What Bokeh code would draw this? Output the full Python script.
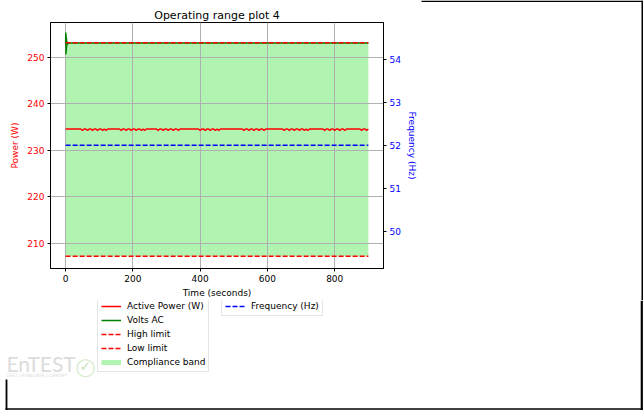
from bokeh.plotting import figure
from bokeh.layouts import column, row
from bokeh.models import (Range1d, LinearAxis, FixedTicker, Legend, LegendItem, Label)
from bokeh.embed import file_html
from bokeh.resources import INLINE

# ---------------- data ----------------
time_s = [0, 5, 10, 15, 20, 25, 30, 35, 40, 45, 50, 55, 60, 65, 70, 75, 80, 85, 90, 95,
          100, 105, 110, 115, 120, 125, 130, 135, 140, 145, 150, 155, 160, 165, 170, 175, 180, 185, 190, 195,
          200, 205, 210, 215, 220, 225, 230, 235, 240, 245, 250, 255, 260, 265, 270, 275, 280, 285, 290, 295,
          300, 305, 310, 315, 320, 325, 330, 335, 340, 345, 350, 355, 360, 365, 370, 375, 380, 385, 390, 395,
          400, 405, 410, 415, 420, 425, 430, 435, 440, 445, 450, 455, 460, 465, 470, 475, 480, 485, 490, 495,
          500, 505, 510, 515, 520, 525, 530, 535, 540, 545, 550, 555, 560, 565, 570, 575, 580, 585, 590, 595,
          600, 605, 610, 615, 620, 625, 630, 635, 640, 645, 650, 655, 660, 665, 670, 675, 680, 685, 690, 695,
          700, 705, 710, 715, 720, 725, 730, 735, 740, 745, 750, 755, 760, 765, 770, 775, 780, 785, 790, 795,
          800, 805, 810, 815, 820, 825, 830, 835, 840, 845, 850, 855, 860, 865, 870, 875, 880, 885, 890, 895,
          900]
active_power = [234.6, 234.6, 234.6, 234.6, 234.6, 234.6, 234.6, 234.6, 234.6, 234.6, 234.3, 234.6, 234.6, 234.3, 234.6, 234.6, 234.3, 234.6, 234.6, 234.3,
                234.6, 234.6, 234.3, 234.6, 234.3, 234.6, 234.6, 234.6, 234.6, 234.6, 234.6, 234.6, 234.6, 234.3, 234.6, 234.6, 234.3, 234.6, 234.6, 234.3,
                234.6, 234.6, 234.3, 234.6, 234.6, 234.3, 234.6, 234.3, 234.6, 234.6, 234.6, 234.6, 234.6, 234.6, 234.6, 234.3, 234.6, 234.6, 234.3, 234.6,
                234.6, 234.3, 234.6, 234.6, 234.3, 234.6, 234.6, 234.3, 234.6, 234.6, 234.6, 234.6, 234.6, 234.6, 234.6, 234.6, 234.6, 234.6, 234.6, 234.6,
                234.3, 234.6, 234.6, 234.3, 234.6, 234.6, 234.3, 234.6, 234.6, 234.3, 234.6, 234.3, 234.6, 234.6, 234.6, 234.6, 234.6, 234.6, 234.6, 234.6,
                234.6, 234.6, 234.6, 234.6, 234.6, 234.6, 234.3, 234.6, 234.6, 234.3, 234.6, 234.6, 234.3, 234.6, 234.6, 234.3, 234.6, 234.6, 234.3, 234.6,
                234.6, 234.6, 234.6, 234.6, 234.6, 234.6, 234.6, 234.6, 234.6, 234.6, 234.3, 234.6, 234.6, 234.3, 234.6, 234.6, 234.3, 234.6, 234.6, 234.3,
                234.6, 234.6, 234.3, 234.6, 234.3, 234.6, 234.6, 234.6, 234.6, 234.6, 234.6, 234.6, 234.6, 234.6, 234.3, 234.6, 234.6, 234.3, 234.6, 234.6,
                234.3, 234.6, 234.6, 234.3, 234.6, 234.6, 234.3, 234.6, 234.6, 234.6, 234.6, 234.6, 234.6, 234.6, 234.6, 234.6, 234.3, 234.6, 234.6, 234.3,
                234.6]
volts_time = [0, 0.5, 1, 1.5, 2, 2.5, 3, 3.5, 4, 5, 6, 8, 10, 50, 100, 150, 200, 250, 300, 350,
              400, 450, 500, 550, 600, 650, 700, 750, 800, 850, 900]
volts_ac = [253.0, 255.4, 250.7, 254.8, 251.4, 254.2, 252.2, 253.6, 252.7, 253.3, 252.9, 253.1, 253.1, 253.1, 253.1, 253.1, 253.1, 253.1, 253.1, 253.1,
            253.1, 253.1, 253.1, 253.1, 253.1, 253.1, 253.1, 253.1, 253.1, 253.1, 253.1]
limit_time = [0, 900]
high_limit = [253.2, 253.2]
low_limit = [207.2, 207.2]
freq_time = [0, 900]
frequency = [52.0, 52.0]

x_ticks = [0, 200, 400, 600, 800]
power_ticks = [210, 220, 230, 240, 250]
freq_ticks = [50, 51, 52, 53, 54]

legend_labels = ["Active Power (W)", "Volts AC", "High limit", "Low limit", "Compliance band"]
freq_label = "Frequency (Hz)"

FONT = "DejaVu Sans"
DASH = "5 2"
BAND_COLOR = "lightgreen"
NAN = float("nan")

# ---------------- main chart ----------------
p = figure(width=420, height=300, output_backend="svg", toolbar_location=None,
           title="Operating range plot 4", frame_align=False,
           x_range=Range1d(-45, 945), y_range=Range1d(204.55, 257.54),
           min_border_left=50, min_border_right=37, min_border_top=22,
           min_border_bottom=30)
p.extra_y_ranges = {"freq": Range1d(49.14, 54.85)}
p.background_fill_color = "white"
p.border_fill_color = "white"
p.outline_line_color = "black"
p.outline_line_width = 1

p.title.text_font = FONT
p.title.text_font_size = "11px"
p.title.text_font_style = "normal"
p.title.text_color = "black"
p.title.align = "center"
p.title.standoff = 2

right_axis = LinearAxis(y_range_name="freq")
p.add_layout(right_axis, "right")

xa = p.xaxis[0]
ya = p.yaxis[0]
xa.ticker = FixedTicker(ticks=x_ticks)
ya.ticker = FixedTicker(ticks=power_ticks)
right_axis.ticker = FixedTicker(ticks=freq_ticks)

for ax in (xa, ya, right_axis):
    ax.major_label_text_font = FONT
    ax.major_label_text_font_size = "9px"
    ax.axis_label_text_font = FONT
    ax.axis_label_text_font_size = "9px"
    ax.axis_label_text_font_style = "normal"
    ax.major_tick_out = 3
    ax.major_tick_in = 0
    ax.minor_tick_line_color = None
    ax.axis_line_color = "black"
    ax.major_tick_line_color = "black"
    ax.major_label_standoff = 3

xa.axis_label = "Time (seconds)"
xa.major_label_text_color = "black"
xa.axis_label_text_color = "black"
xa.major_label_standoff = 3
xa.axis_label_standoff = 3

ya.axis_label = "Power (W)"
ya.major_label_text_color = "red"
ya.axis_label_text_color = "red"
ya.axis_label_standoff = 4

right_axis.axis_label = "Frequency (Hz)"
right_axis.major_label_text_color = "blue"
right_axis.axis_label_text_color = "blue"
right_axis.axis_label_standoff = 3

p.xgrid.grid_line_color = "#b0b0b0"
p.ygrid.grid_line_color = "#b0b0b0"
p.xgrid.grid_line_width = 1
p.ygrid.grid_line_width = 1

# compliance band (below the grid, like matplotlib patches)
p.varea(x=limit_time, y1=low_limit, y2=high_limit,
        fill_color=BAND_COLOR, fill_alpha=0.7, level="image")

p.line(time_s, active_power, line_color="red", line_width=1.5)
p.line(volts_time, volts_ac, line_color="green", line_width=1.5)
p.line(limit_time, high_limit, line_color="red", line_width=1.5, line_dash=DASH)
p.line(limit_time, low_limit, line_color="red", line_width=1.5, line_dash=DASH)
p.line(freq_time, frequency, line_color="blue", line_width=1.5, line_dash=DASH,
       y_range_name="freq")

# ---------------- right strip (page border) ----------------
pr = figure(width=223, height=300, output_backend="svg", toolbar_location=None,
            x_axis_type=None, y_axis_type=None, frame_align=False,
            x_range=Range1d(420, 643), y_range=Range1d(300, 0),
            min_border=0)
pr.outline_line_color = None
pr.background_fill_color = "white"
pr.border_fill_color = "white"
pr.line([421, 643], [0.75, 0.75], line_color="black", line_width=1.6)
pr.line([641.9, 641.9], [0, 300], line_color="black", line_width=1.8)

# ---------------- bottom strip: legends, logo, page border ----------------
pb = figure(width=643, height=110, output_backend="svg", toolbar_location=None,
            x_axis_type=None, y_axis_type=None, frame_align=False,
            x_range=Range1d(0, 643), y_range=Range1d(410, 300),
            min_border=0)
pb.outline_line_color = None
pb.background_fill_color = "white"
pb.border_fill_color = "white"

pb.line([6.0, 6.0], [379, 410], line_color="black", line_width=1.8)
pb.line([5.0, 643], [408.5, 408.5], line_color="black", line_width=1.7)
pb.line([641.3, 641.3], [300, 410], line_color="black", line_width=2.2)

# legend swatches (invisible one-point renderers carrying the same styles)
d_power = pb.line(x=[NAN], y=[NAN], line_color="red", line_width=1.5)
d_volts = pb.line(x=[NAN], y=[NAN], line_color="green", line_width=1.5)
d_high = pb.line(x=[NAN], y=[NAN], line_color="red", line_width=1.5, line_dash=DASH)
d_low = pb.line(x=[NAN], y=[NAN], line_color="red", line_width=1.5, line_dash=DASH)
d_band = pb.line(x=[NAN], y=[NAN], line_color=BAND_COLOR, line_alpha=0.7, line_width=5,
                 line_cap="butt")
d_freq = pb.line(x=[NAN], y=[NAN], line_color="blue", line_width=1.5, line_dash=DASH)

def make_legend(items, loc):
    lg = Legend(items=items, location=loc)
    lg.label_text_font = FONT
    lg.label_text_font_size = "9px"
    lg.label_text_color = "black"
    lg.glyph_width = 20
    lg.glyph_height = 12
    lg.label_height = 12
    lg.label_standoff = 6
    lg.spacing = 2
    lg.padding = 3
    lg.margin = 0
    lg.border_line_color = "#cccccc"
    lg.border_line_width = 1
    lg.background_fill_color = "white"
    lg.background_fill_alpha = 0.8
    return lg

leg1 = make_legend([LegendItem(label=lab, renderers=[r]) for lab, r in
                    zip(legend_labels, [d_power, d_volts, d_high, d_low, d_band])],
                   (97, 38))
leg2 = make_legend([LegendItem(label=freq_label, renderers=[d_freq])], (221, 94))
pb.add_layout(leg1)
pb.add_layout(leg2)

# faint company watermark
pb.add_layout(Label(x=6, y=363, text="EnTEST", text_font="Lato", text_font_size="21px",
                    text_color="#dcdcdc", text_baseline="middle"))
pb.add_layout(Label(x=6, y=375, text="TEST | EVALUATE | CERTIFY", text_font=FONT,
                    text_font_size="4.5px", text_color="#d6d6d6", text_baseline="middle"))
pb.add_layout(Label(x=75, y=366, text="\u25ef", text_font=FONT, text_font_size="18px",
                    text_color="#d6ebcc", text_baseline="middle"))
pb.add_layout(Label(x=79, y=365, text="\u2713", text_font=FONT, text_font_size="14px",
                    text_color="#c9e5bd", text_baseline="middle"))

layout = column(row(p, pr), pb)
open("out.html", "w").write(file_html(layout, INLINE))
